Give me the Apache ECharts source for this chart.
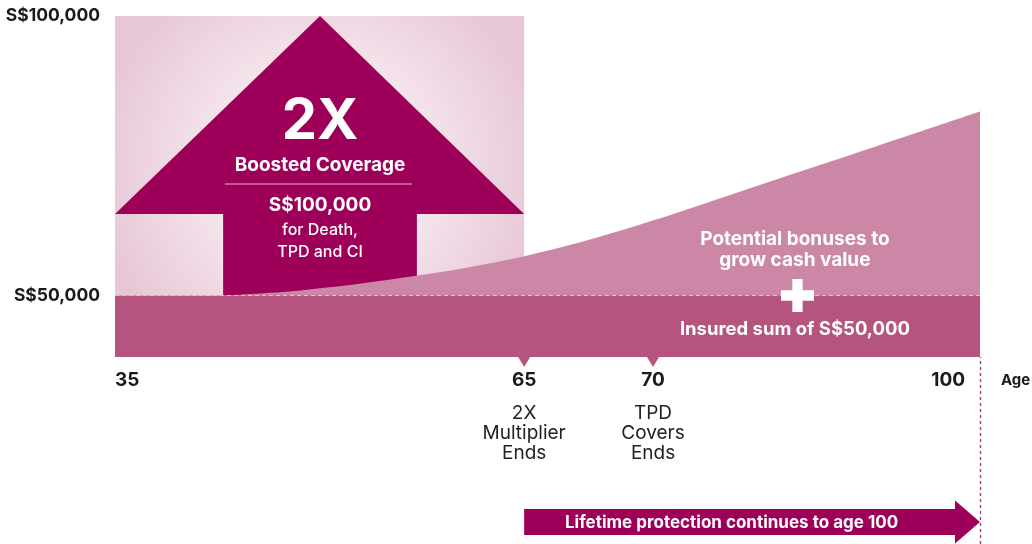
<!DOCTYPE html>
<html>
<head>
<meta charset="utf-8">
<script src="https://cdn.jsdelivr.net/npm/echarts@6/dist/echarts.min.js"></script>
<style>
  html, body { margin: 0; padding: 0; background: #fff; }
  #chart { width: 1032px; height: 544px; }
</style>
</head>
<body>
<div id="chart"></div>
<script>
// ages are not evenly spaced on the timeline, so each age gets a track position (0-100)
const ages = [35, 65, 70, 100];
const agePos = [0, 47.3, 62.2, 100];
const ageNotes = ['', '2X\nMultiplier\nEnds', 'TPD\nCovers\nEnds', ''];
const yTicks = [50000, 100000];
const insuredSum = 50000;
const boostedSum = 100000;
const yMin = 39000;
// potential bonus curve: track position, S$
const curvePos = [12.5, 21.4, 33.4, 47.2, 59.9, 75.4, 86.9, 100];
const curveVal = [50000, 50900, 53200, 57000, 62300, 70200, 76100, 82900];
// 2X arrow
const arrowShoulder = 64600;
const stemPos = [12.5, 34.9];
const labelPos = 78.6;

const FONT = 'Inter, Roboto, sans-serif';
const DARK = '#9e0059';
const BAND = '#b5547f';
const BONUS = '#cd87a6';

const chart = echarts.init(document.getElementById('chart'));

const ageIndex = v => agePos.findIndex(p => Math.abs(p - v) < 1e-6);

chart.setOption({
  animation: false,
  textStyle: { fontFamily: FONT },
  grid: [
    { left: 115, right: 52, top: 16, bottom: 187, outerBoundsMode: 'none' },
    { left: 115, right: 52, top: 357, bottom: 0, outerBoundsMode: 'none' }
  ],
  xAxis: [
    {
      type: 'value', gridIndex: 0, min: 0, max: 100,
      axisLine: { show: false }, axisTick: { show: false }, splitLine: { show: false },
      axisLabel: {
        customValues: agePos,
        margin: 0,
        alignMinLabel: 'left',
        alignMaxLabel: 'right',
        formatter(v) {
          const i = ageIndex(v);
          if (i < 0) return '';
          const head = i === ages.length - 1 ? `{last|${ages[i]}}` : `{age|${ages[i]}}`;
          if (!ageNotes[i]) return head;
          return head + '\n' + ageNotes[i].split('\n').map(s => `{note|${s}}`).join('\n');
        },
        rich: {
          age: { fontSize: 19, fontWeight: 'bold', color: '#1a1a1a', lineHeight: 46, fontFamily: FONT },
          last: { fontSize: 19, fontWeight: 'bold', color: '#1a1a1a', lineHeight: 46, padding: [0, 15, 0, 0], fontFamily: FONT },
          note: { fontSize: 19, color: '#222', lineHeight: 20, fontFamily: FONT }
        }
      },
      name: 'Age',
      nameLocation: 'end',
      nameGap: 21,
      nameTextStyle: { fontSize: 15, fontWeight: 'bold', color: '#1a1a1a', verticalAlign: 'top', lineHeight: 46 }
    },
    { type: 'value', gridIndex: 1, min: 0, max: 100, show: false }
  ],
  yAxis: [
    {
      type: 'value', gridIndex: 0, min: yMin, max: boostedSum,
      axisLine: { show: false }, axisTick: { show: false }, splitLine: { show: false },
      axisLabel: {
        customValues: yTicks,
        margin: 15,
        fontSize: 17.5,
        fontWeight: 'bold',
        color: '#1a1a1a',
        formatter: v => 'S$' + v.toLocaleString('en-US')
      }
    },
    { type: 'value', gridIndex: 1, min: 0, max: 1, show: false }
  ],
  series: [
    {
      // boosted period box + 2X arrow
      type: 'custom',
      xAxisIndex: 0, yAxisIndex: 0,
      z: 2,
      data: [[agePos[1], boostedSum]],
      renderItem(params, api) {
        const tl = api.coord([0, boostedSum]);
        const br = api.coord([api.value(0), insuredSum]);
        const L = api.coord([0, arrowShoulder]);
        const R = api.coord([api.value(0), arrowShoulder]);
        const apex = api.coord([(stemPos[0] + stemPos[1]) / 2, api.value(1)]);
        const sl = api.coord([stemPos[0], insuredSum]);
        const sr = api.coord([stemPos[1], insuredSum]);
        const cx = apex[0], top = apex[1];
        const white = (text, dy, size, weight) => ({
          type: 'text',
          style: { text, x: cx, y: top + dy, align: 'center', verticalAlign: 'middle',
            fill: '#fff', font: `${weight} ${size}px ${FONT}` }
        });
        return {
          type: 'group',
          children: [
            {
              type: 'rect',
              shape: { x: tl[0], y: tl[1], width: br[0] - tl[0], height: br[1] - tl[1] },
              style: {
                fill: {
                  type: 'radial', x: 0.5, y: 0.55, r: 0.8,
                  colorStops: [
                    { offset: 0, color: '#fbf5f8' },
                    { offset: 0.5, color: '#f4e4ec' },
                    { offset: 1, color: '#e7c7d6' }
                  ]
                }
              }
            },
            {
              type: 'polygon',
              shape: { points: [L, apex, R, [sr[0], R[1]], sr, sl, [sl[0], L[1]]] },
              style: { fill: DARK }
            },
            white('2X', 106, 56, 'bold'),
            white('Boosted Coverage', 149, 19, 'bold'),
            {
              type: 'line',
              shape: { x1: cx - 95, y1: top + 168, x2: cx + 92, y2: top + 168 },
              style: { stroke: '#e2b3ca', lineWidth: 1 }
            },
            white('S$100,000', 189, 19, 'bold'),
            white('for Death,', 214, 16, '500'),
            white('TPD and CI', 236, 16, '500')
          ]
        };
      }
    },
    {
      // potential bonuses
      type: 'line',
      xAxisIndex: 0, yAxisIndex: 0,
      z: 3,
      smooth: 0.35,
      symbol: 'none',
      lineStyle: { width: 0 },
      areaStyle: { color: BONUS, opacity: 1, origin: 'start' },
      data: curvePos.map((p, i) => [p, curveVal[i]]),
      markPoint: {
        symbol: 'circle', symbolSize: 1,
        itemStyle: { color: 'transparent' },
        data: [{
          coord: [labelPos, 58200],
          label: {
            show: true, position: 'inside',
            formatter: 'Potential bonuses to\ngrow cash value',
            color: '#fff', fontSize: 19, fontWeight: 'bold', lineHeight: 21, align: 'center'
          }
        }]
      }
    },
    {
      // insured sum band
      type: 'line',
      xAxisIndex: 0, yAxisIndex: 0,
      z: 4,
      symbol: 'none',
      lineStyle: { width: 0 },
      areaStyle: { color: BAND, opacity: 1, origin: 'start' },
      data: [[0, insuredSum], [100, insuredSum]],
      markLine: {
        silent: true, symbol: 'none',
        label: { show: false },
        lineStyle: { color: '#c6cfd0', type: [4, 3], width: 1 },
        data: [{ yAxis: insuredSum }]
      },
      markPoint: {
        data: [
          {
            coord: [labelPos + 0.3, insuredSum],
            symbol: 'path://M11,0h10v11h11v10h-11v11h-10v-11h-11v-10h11z',
            symbolSize: 33,
            itemStyle: { color: '#fff' },
            label: { show: false }
          },
          {
            coord: [labelPos, 43900],
            symbol: 'circle', symbolSize: 1,
            itemStyle: { color: 'transparent' },
            label: {
              show: true, position: 'inside',
              formatter: 'Insured sum of S$50,000',
              color: '#fff', fontSize: 18.5, fontWeight: 'bold'
            }
          },
          ...agePos.slice(1, 3).map(p => ({
            coord: [p, yMin],
            symbol: 'triangle', symbolRotate: 180,
            symbolSize: [12, 10], symbolOffset: [0, 5],
            itemStyle: { color: BAND },
            label: { show: false }
          }))
        ]
      }
    },
    {
      // lifetime protection arrow
      type: 'custom',
      xAxisIndex: 1, yAxisIndex: 1,
      z: 5,
      encode: { x: [0, 2], y: 1 },
      data: [[agePos[1], 0, agePos[3]]],
      renderItem(params, api) {
        const a = api.coord([api.value(0), api.value(1)]);
        const b = api.coord([api.value(2), api.value(1)]);
        const cy = a[1] - 22;
        const headBase = b[0] - 25;
        return {
          type: 'group',
          children: [
            {
              type: 'polygon',
              shape: { points: [
                [a[0], cy - 13], [headBase, cy - 13], [headBase, cy - 21.5], [b[0], cy],
                [headBase, cy + 21.5], [headBase, cy + 13], [a[0], cy + 13]
              ] },
              style: { fill: DARK }
            },
            {
              type: 'text',
              style: {
                text: 'Lifetime protection continues to age 100',
                x: (a[0] + headBase) / 2 - 8, y: cy + 1,
                align: 'center', verticalAlign: 'middle',
                fill: '#fff', font: `bold 17px ${FONT}`
              }
            }
          ]
        };
      },
      markLine: {
        silent: true, symbol: 'none',
        label: { show: false },
        lineStyle: { color: '#b0306f', type: [3, 3], width: 1.3 },
        data: [{ xAxis: agePos[3] }]
      }
    }
  ]
});
</script>
</body>
</html>
